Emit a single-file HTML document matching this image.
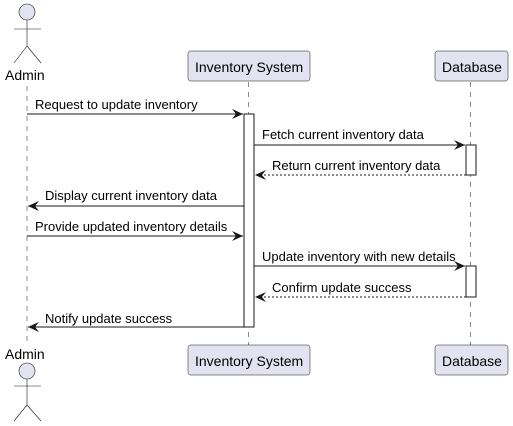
<!DOCTYPE html>
<html><head><meta charset="utf-8"><style>
html,body{margin:0;padding:0;background:#fff;width:513px;height:426px;overflow:hidden}
text{font-family:"Liberation Sans",sans-serif;fill:#000}
</style></head><body>
<svg width="513" height="426" viewBox="0 0 513 426" xmlns="http://www.w3.org/2000/svg">
<defs>
<marker id="a" markerWidth="12" markerHeight="10" refX="11" refY="5" orient="auto" markerUnits="userSpaceOnUse">
<path d="M0,0 L11,5 L0,10 L4,5 Z" fill="#181818"/></marker>
</defs>
<g stroke="#181818" stroke-width="0.5" stroke-dasharray="5,5">
<line x1="27" y1="86" x2="27" y2="345"/>
<line x1="248.5" y1="82" x2="248.5" y2="345"/>
<line x1="470.5" y1="82" x2="470.5" y2="345"/>
</g>
<!-- top actor -->
<g stroke="#181818" stroke-width="0.6" fill="none">
<circle cx="27" cy="12" r="8" fill="#E2E2F0"/>
<line x1="27" y1="20" x2="27" y2="46"/><line x1="14" y1="29" x2="41" y2="29"/>
<line x1="27" y1="46" x2="14" y2="63"/><line x1="27" y1="46" x2="41" y2="63"/>
</g>
<text x="5" y="80" font-size="14">Admin</text>
<!-- bottom actor -->
<g stroke="#181818" stroke-width="0.6" fill="none">
<circle cx="27" cy="371" r="8" fill="#E2E2F0"/>
<line x1="27" y1="379" x2="27" y2="405"/><line x1="14" y1="386" x2="41" y2="386"/>
<line x1="27" y1="405" x2="14" y2="421"/><line x1="27" y1="405" x2="41" y2="421"/>
</g>
<text x="5" y="359" font-size="14">Admin</text>
<!-- boxes -->
<g fill="#E2E2F0" stroke="#181818" stroke-width="0.5">
<rect x="188" y="51" width="122" height="30" rx="2.5"/>
<rect x="435" y="51" width="73" height="30" rx="2.5"/>
<rect x="188" y="345" width="122" height="30" rx="2.5"/>
<rect x="435" y="345" width="73" height="30" rx="2.5"/>
</g>
<g font-size="14">
<text x="195" y="72">Inventory System</text>
<text x="442" y="72">Database</text>
<text x="195" y="366">Inventory System</text>
<text x="442" y="366">Database</text>
</g>
<!-- activations -->
<g fill="#fff" stroke="#181818" stroke-width="1">
<rect x="244" y="114" width="10" height="213"/>
<rect x="466" y="145" width="10" height="30"/>
<rect x="466" y="266" width="10" height="31"/>
</g>
<!-- messages -->
<g stroke="#181818" stroke-width="1" fill="none" marker-end="url(#a)">
<line x1="27" y1="114" x2="243" y2="114"/>
<line x1="254" y1="145" x2="465" y2="145"/>
<line x1="466" y1="175" x2="255" y2="175" stroke-dasharray="2,2"/>
<line x1="244" y1="206" x2="28" y2="206"/>
<line x1="27" y1="236" x2="243" y2="236"/>
<line x1="254" y1="266" x2="465" y2="266"/>
<line x1="466" y1="297" x2="255" y2="297" stroke-dasharray="2,2"/>
<line x1="244" y1="327" x2="28" y2="327"/>
</g>
<g font-size="13">
<text x="35" y="109">Request to update inventory</text>
<text x="262" y="139">Fetch current inventory data</text>
<text x="272" y="170">Return current inventory data</text>
<text x="45" y="200">Display current inventory data</text>
<text x="35" y="231">Provide updated inventory details</text>
<text x="262" y="261">Update inventory with new details</text>
<text x="272" y="292">Confirm update success</text>
<text x="45" y="323">Notify update success</text>
</g>
</svg>
</body></html>
